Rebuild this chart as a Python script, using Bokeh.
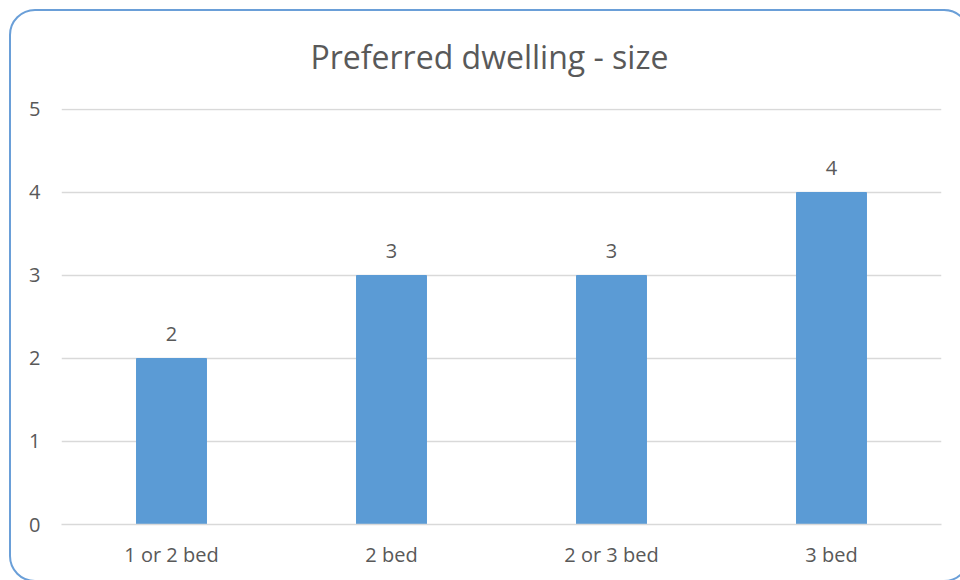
from bokeh.plotting import figure
from bokeh.models import ColumnDataSource, LabelSet, FixedTicker, InlineStyleSheet
from bokeh.core.properties import value
from bokeh.embed import file_html
from bokeh.resources import INLINE

# Survey answers: preferred dwelling size
categories = ["1 or 2 bed", "2 bed", "2 or 3 bed", "3 bed"]
counts = [2, 3, 3, 4]
y_ticks = [0, 1, 2, 3, 4, 5]

FONT = "Open Sans"
TEXT = "#595959"
GRID = "#D9D9D9"
BAR = "#5B9BD5"

source = ColumnDataSource(dict(cat=categories, n=counts, label=[str(c) for c in counts]))

p = figure(
    title="Preferred dwelling - size",
    x_range=categories,
    y_range=(0, 5.012),
    width=960,
    height=580,
    output_backend="svg",
    toolbar_location=None,
    min_border_left=61,
    min_border_right=19,
    min_border_top=108,
    min_border_bottom=56,
    background_fill_color="white",
    border_fill_color="white",
)
p.outline_line_color = None

# rounded chart-area border; its right and bottom sides run just past the page edge
p.stylesheets = [InlineStyleSheet(css="""
:host { position: relative; overflow: hidden; }
:host::after {
  content: "";
  position: absolute;
  box-sizing: border-box;
  left: 9px; top: 9px;
  width: 961px; height: 573px;
  border: 2px solid #6A9FD8;
  border-radius: 26px;
  pointer-events: none;
}
""")]

p.title.align = "left"
p.title.offset = 249
p.title.text_font = FONT
p.title.text_font_size = "32px"
p.title.text_font_style = "normal"
p.title.text_color = TEXT
p.title.standoff = 62

p.vbar(x="cat", top="n", width=0.318, source=source, color=BAR)

p.add_layout(LabelSet(x="cat", y="n", text="label", source=source,
                      text_align="center", text_baseline="middle", y_offset=24,
                      text_font=value(FONT), text_font_size=value("20px"),
                      text_color=TEXT))

# axes
p.yaxis.ticker = FixedTicker(ticks=y_ticks)
p.yaxis.axis_line_color = None
p.yaxis.major_tick_line_color = None
p.yaxis.minor_tick_line_color = None
p.yaxis.major_tick_out = 0
p.yaxis.minor_tick_out = 0
p.yaxis.major_label_standoff = 21
p.yaxis.major_label_text_font = FONT
p.yaxis.major_label_text_font_size = "20px"
p.yaxis.major_label_text_color = TEXT

p.xaxis.axis_line_color = GRID
p.xaxis.axis_line_width = 1.5
p.xaxis.major_tick_line_color = None
p.xaxis.minor_tick_line_color = None
p.xaxis.major_tick_out = 0
p.xaxis.minor_tick_out = 0
p.xaxis.major_label_standoff = 16
p.xaxis.major_label_text_font = FONT
p.xaxis.major_label_text_font_size = "20px"
p.xaxis.major_label_text_color = TEXT

p.xgrid.grid_line_color = None
p.ygrid.grid_line_color = GRID
p.ygrid.grid_line_width = 1.5

open("out.html", "w").write(file_html(p, INLINE))
